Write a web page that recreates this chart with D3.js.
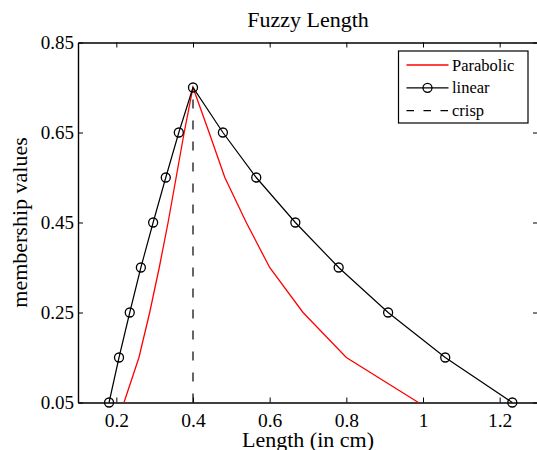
<!DOCTYPE html>
<html>
<head>
<meta charset="utf-8">
<script src="https://cdn.jsdelivr.net/npm/d3@7"></script>
<style>
  body { margin: 0; background: #fff; }
  svg { display: block; }
  svg text { font-family: "Liberation Serif", "Times New Roman", serif; fill: #000; }
</style>
</head>
<body>
<div id="chart"></div>
<script>
// data
const levels = [0.05, 0.15, 0.25, 0.35, 0.45, 0.55, 0.65, 0.75, 0.65, 0.55, 0.45, 0.35, 0.25, 0.15, 0.05];
const linearX = [0.181, 0.207, 0.235, 0.264, 0.296, 0.329, 0.363, 0.4, 0.478, 0.565, 0.667, 0.78, 0.909, 1.058, 1.233];
const parabolicX = [0.22, 0.259, 0.287, 0.312, 0.335, 0.356, 0.377, 0.4, 0.442, 0.483, 0.539, 0.6, 0.687, 0.8, 0.988];
const crispX = [0.4, 0.4];
const crispY = [0.05, 0.75];
const xTicks = [0.2, 0.4, 0.6, 0.8, 1, 1.2];
const yTicks = [0.05, 0.25, 0.45, 0.65, 0.85];

const width = 537, height = 450;
var margin = {top: 42.5, right: -1, bottom: 47.5, left: 78};

var svg = d3.select("#chart")
  .append("svg")
    .attr("width", width)
    .attr("height", height);

var x = d3.scaleLinear()
  .domain([0.1, 1.3])
  .range([margin.left, width - margin.right]);

var y = d3.scaleLinear()
  .domain([0.05, 0.85])
  .range([height - margin.bottom, margin.top]);

// axes, matlab style with inward ticks on all four sides
svg.append("g")
  .attr("transform", "translate(0," + y(0.05) + ")")
  .call(d3.axisBottom(x).tickValues(xTicks).tickSizeInner(-5).tickSizeOuter(0).tickPadding(11).tickFormat(d3.format("")))
  .call(g => g.selectAll("text").style("font-size", "19.5px"));

svg.append("g")
  .attr("transform", "translate(0," + y(0.85) + ")")
  .call(d3.axisTop(x).tickValues(xTicks).tickSizeInner(-5).tickSizeOuter(0).tickFormat(""));

svg.append("g")
  .attr("transform", "translate(" + x(0.1) + ",0)")
  .call(d3.axisLeft(y).tickValues(yTicks).tickSizeInner(-5).tickSizeOuter(0).tickPadding(4).tickFormat(d3.format(".2f")))
  .call(g => g.selectAll("text").style("font-size", "19px"));

svg.append("g")
  .attr("transform", "translate(" + x(1.3) + ",0)")
  .call(d3.axisRight(y).tickValues(yTicks).tickSizeInner(-5).tickSizeOuter(0).tickFormat(""));

svg.selectAll(".domain").attr("stroke", "#000").attr("stroke-width", 1.4);
svg.selectAll(".tick line").attr("stroke", "#000").attr("stroke-width", 1);

// labels
svg.append("text")
  .attr("x", (x(0.1) + x(1.3)) / 2)
  .attr("y", 27)
  .attr("text-anchor", "middle")
  .style("font-size", "22px")
  .text("Fuzzy Length");

svg.append("text")
  .attr("x", (x(0.1) + x(1.3)) / 2)
  .attr("y", 446.5)
  .attr("text-anchor", "middle")
  .style("font-size", "22px")
  .text("Length (in cm)");

svg.append("text")
  .attr("transform", "rotate(-90)")
  .attr("x", -(y(0.05) + y(0.85)) / 2)
  .attr("y", 27)
  .attr("text-anchor", "middle")
  .style("font-size", "22px")
  .text("membership values");

var line = d3.line()
  .x(function(d) { return x(d[0]); })
  .y(function(d) { return y(d[1]); });

var linearData = linearX.map(function(v, i) { return [v, levels[i]]; });
var parabolicData = parabolicX.map(function(v, i) { return [v, levels[i]]; });
var crispData = crispX.map(function(v, i) { return [v, crispY[i]]; });

svg.append("path")
  .datum(crispData)
  .attr("fill", "none")
  .attr("stroke", "#000")
  .attr("stroke-width", 1.2)
  .attr("stroke-dasharray", "9,12")
  .attr("d", line);

svg.append("path")
  .datum(parabolicData)
  .attr("fill", "none")
  .attr("stroke", "#ff0000")
  .attr("stroke-width", 1.3)
  .attr("d", line);

svg.append("path")
  .datum(linearData)
  .attr("fill", "none")
  .attr("stroke", "#000")
  .attr("stroke-width", 1.2)
  .attr("d", line);

svg.append("g")
  .selectAll("circle")
  .data(linearData)
  .enter()
  .append("circle")
    .attr("cx", function(d) { return x(d[0]); })
    .attr("cy", function(d) { return y(d[1]); })
    .attr("r", 4.5)
    .attr("fill", "none")
    .attr("stroke", "#000")
    .attr("stroke-width", 1.3);

// legend
var legend = svg.append("g");
legend.append("rect")
  .attr("x", 398.5)
  .attr("y", 51)
  .attr("width", 129.5)
  .attr("height", 72)
  .attr("fill", "#fff")
  .attr("stroke", "#000")
  .attr("stroke-width", 1.2);

var items = [
  {name: "Parabolic", color: "#ff0000", dash: null, marker: false},
  {name: "linear", color: "#000", dash: null, marker: true},
  {name: "crisp", color: "#000", dash: "7.5,9.5", marker: false}
];

items.forEach(function(it, i) {
  var ly = 65 + i * 22.8;
  legend.append("line")
    .attr("x1", 406.5).attr("x2", 448.5)
    .attr("y1", ly).attr("y2", ly)
    .attr("stroke", it.color)
    .attr("stroke-width", 1.3)
    .attr("stroke-dasharray", it.dash);
  if (it.marker) {
    legend.append("circle")
      .attr("cx", 427.5).attr("cy", ly).attr("r", 4.5)
      .attr("fill", "none").attr("stroke", "#000").attr("stroke-width", 1.3);
  }
  legend.append("text")
    .attr("x", 452)
    .attr("y", ly + 5.5)
    .style("font-size", "16.5px")
    .text(it.name);
});
</script>
</body>
</html>
